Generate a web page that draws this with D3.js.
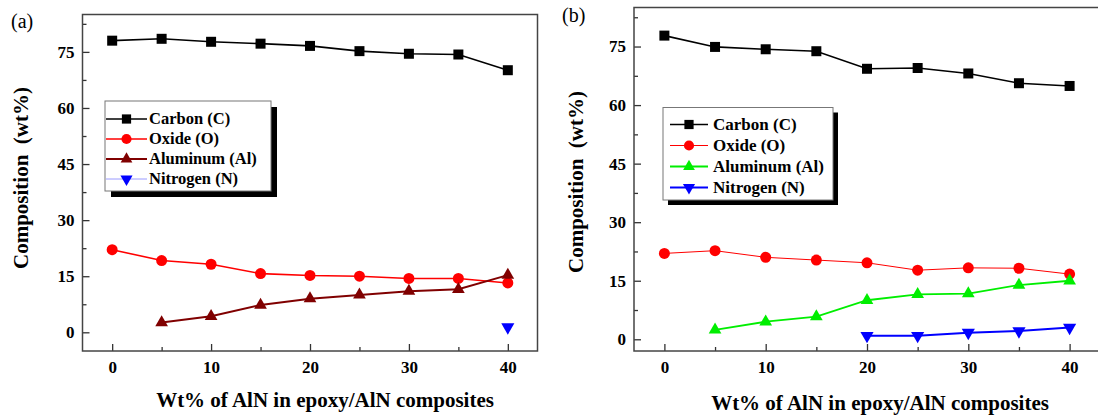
<!DOCTYPE html>
<html>
<head>
<meta charset="utf-8">
<script src="https://cdn.jsdelivr.net/npm/d3@7"></script>
<style>
body { margin: 0; background: #fff; }
svg { display: block; }
.axis path { display: none; }
.axis line { stroke: #333; stroke-width: 1.3; }
</style>
</head>
<body>
<svg width="1098" height="416"></svg>
<script>
// wt% of AlN in the composites
var loadings = [0, 5, 10, 15, 20, 25, 30, 35, 40];
var xMajor = [0, 10, 20, 30, 40];
var xMinor = [5, 15, 25, 35];
var yMajor = [0, 15, 30, 45, 60, 75];
var yMinor = [7.5, 22.5, 37.5, 52.5, 67.5, 82.5];

// panel (a)
var carbonA   = [78.0, 78.5, 77.7, 77.2, 76.6, 75.2, 74.5, 74.3, 70.1];
var oxideA    = [22.1, 19.2, 18.2, 15.7, 15.2, 15.0, 14.4, 14.4, 13.2];
var aluminumA = [null, 2.6, 4.3, 7.3, 9.0, 10.0, 11.0, 11.5, 15.3];
var nitrogenA = [null, null, null, null, null, null, null, null, 1.4];

// panel (b)
var carbonB   = [77.8, 74.9, 74.3, 73.8, 69.3, 69.5, 68.1, 65.6, 64.9];
var oxideB    = [22.0, 22.7, 21.0, 20.3, 19.6, 17.7, 18.3, 18.2, 16.7];
var aluminumB = [null, 2.4, 4.5, 5.8, 10.0, 11.5, 11.7, 13.9, 15.0];
var nitrogenB = [null, null, null, null, 0.9, 0.9, 1.7, 2.1, 3.0];

var names = ["Carbon (C)", "Oxide (O)", "Aluminum (Al)", "Nitrogen (N)"];

var SERIF = "'Liberation Serif', 'Times New Roman', serif";
var svg = d3.select("svg");

function font(sel, size, weight) {
  sel.style("font-family", SERIF)
     .style("font-size", size + "px")
     .style("font-weight", weight)
     .style("fill", "#000");
}

function drawPanel(p) {
  var x = d3.scaleLinear().domain([-3, 43]).range([p.left, p.right]);
  var y = d3.scaleLinear().domain(p.yDomain).range([p.bottom, p.top]);
  var g = svg.append("g");

  // ticks point inward, like the original plot
  g.append("g").attr("class", "axis")
      .attr("transform", "translate(0," + p.bottom + ")")
      .call(d3.axisBottom(x).tickValues(xMinor).tickSize(-4).tickFormat(""));
  g.append("g").attr("class", "axis")
      .attr("transform", "translate(0," + p.bottom + ")")
      .call(d3.axisBottom(x).tickValues(xMajor).tickSize(-7).tickPadding(10));
  g.append("g").attr("class", "axis")
      .attr("transform", "translate(" + p.left + ",0)")
      .call(d3.axisLeft(y).tickValues(yMinor).tickSize(-4).tickFormat(""));
  g.append("g").attr("class", "axis")
      .attr("transform", "translate(" + p.left + ",0)")
      .call(d3.axisLeft(y).tickValues(yMajor).tickSize(-7).tickPadding(8));
  g.selectAll(".axis text").call(font, 17, 700);

  g.append("rect")
      .attr("x", p.left).attr("y", p.top)
      .attr("width", p.right - p.left).attr("height", p.bottom - p.top)
      .attr("fill", "none").attr("stroke", "#444").attr("stroke-width", 1.5);

  p.series.forEach(function(s) {
    var pts = loadings.map(function(d, i) { return [d, s.values[i]]; });
    var line = d3.line()
        .defined(function(d) { return d[1] != null; })
        .x(function(d) { return x(d[0]); })
        .y(function(d) { return y(d[1]); });
    g.append("path").datum(pts)
        .attr("d", line)
        .attr("fill", "none")
        .attr("stroke", s.color)
        .attr("stroke-width", s.width);
    g.selectAll(null)
        .data(pts.filter(function(d) { return d[1] != null; }))
        .enter().append("path")
        .attr("d", d3.symbol().type(s.shape).size(s.size))
        .attr("transform", function(d) {
          return "translate(" + x(d[0]) + "," + y(d[1]) + ")" + (s.down ? " rotate(180)" : "");
        })
        .attr("fill", s.color);
  });

  // legend with drop shadow
  var L = p.legend;
  var lg = g.append("g");
  lg.append("rect")
      .attr("x", L.x + L.shadow).attr("y", L.y + L.shadow)
      .attr("width", L.w).attr("height", L.h)
      .attr("fill", "#000");
  lg.append("rect")
      .attr("x", L.x).attr("y", L.y)
      .attr("width", L.w).attr("height", L.h)
      .attr("fill", "#fff").attr("stroke", "#777").attr("stroke-width", 1);
  p.series.forEach(function(s, i) {
    var cy = L.row0 + i * L.step;
    lg.append("line")
        .attr("x1", L.x1).attr("x2", L.x2).attr("y1", cy).attr("y2", cy)
        .attr("stroke", s.legendColor || s.color)
        .attr("stroke-width", s.legendWidth || s.width);
    lg.append("path")
        .attr("d", d3.symbol().type(s.shape).size(s.size * 0.85))
        .attr("transform", "translate(" + ((L.x1 + L.x2) / 2) + "," + cy + ")" + (s.down ? " rotate(180)" : ""))
        .attr("fill", s.color);
    lg.append("text")
        .attr("x", L.tx).attr("y", cy).attr("dy", "0.33em")
        .call(font, L.fs, 700)
        .text(names[i]);
  });

  // axis titles and panel tag
  g.append("text")
      .attr("transform", "translate(" + p.yTitle[0] + "," + p.yTitle[1] + ") rotate(-90)")
      .attr("text-anchor", "middle")
      .style("white-space", "pre")
      .call(font, 21, 700)
      .text("Composition  (wt%)");
  g.append("text")
      .attr("x", p.xTitle[0]).attr("y", p.xTitle[1])
      .attr("text-anchor", "middle")
      .call(font, 21, 700)
      .text("Wt% of AlN in epoxy/AlN composites");
  g.append("text")
      .attr("x", p.tag[0]).attr("y", p.tag[1])
      .call(font, 20, 400)
      .text(p.tag[2]);
}

drawPanel({
  left: 82.5, right: 537.5, top: 14.5, bottom: 351,
  yDomain: [-5, 85],
  yTitle: [28, 178], xTitle: [325, 407], tag: [11, 28, "(a)"],
  legend: { x: 105, y: 101, w: 166, h: 90, shadow: 6, row0: 119, step: 20,
            x1: 106, x2: 147, tx: 149, fs: 16.5 },
  series: [
    { values: carbonA,   color: "#000",    width: 1.6, shape: d3.symbolSquare,   size: 100 },
    { values: oxideA,    color: "#ff0000", width: 1.6, shape: d3.symbolCircle,   size: 95 },
    { values: aluminumA, color: "#800000", width: 2,   shape: d3.symbolTriangle, size: 70 },
    { values: nitrogenA, color: "#0000ff", width: 1,   shape: d3.symbolTriangle, size: 75, down: true,
      legendColor: "#9a9aff", legendWidth: 1 }
  ]
});

drawPanel({
  left: 634, right: 1100, top: 7.5, bottom: 351,
  yDomain: [-3, 85],
  yTitle: [583, 182], xTitle: [880, 410], tag: [562, 22, "(b)"],
  legend: { x: 663, y: 107.5, w: 170, h: 92.5, shadow: 5, row0: 124.5, step: 21,
            x1: 670, x2: 708, tx: 713, fs: 17 },
  series: [
    { values: carbonB,   color: "#000",    width: 1.6, shape: d3.symbolSquare,   size: 100 },
    { values: oxideB,    color: "#ff0000", width: 1,   shape: d3.symbolCircle,   size: 95 },
    { values: aluminumB, color: "#00ee00", width: 1.8, shape: d3.symbolTriangle, size: 70 },
    { values: nitrogenB, color: "#0000ff", width: 2,   shape: d3.symbolTriangle, size: 75, down: true }
  ]
});
</script>
</body>
</html>
